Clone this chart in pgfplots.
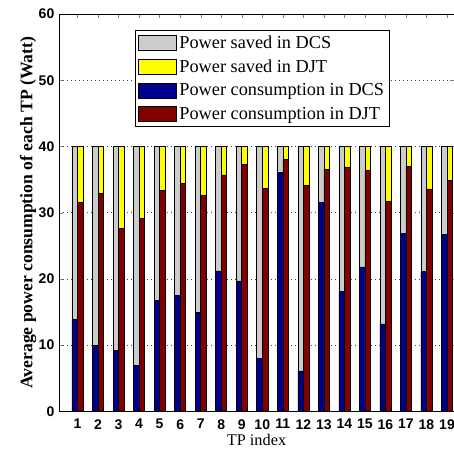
\documentclass[border=0pt]{standalone}
\usepackage{fontspec}
\setmainfont{Liberation Serif}
\setsansfont{Liberation Sans}
\usepackage{pgfplots}
\usepackage{pgfplotstable}
\pgfplotsset{compat=1.18}

\definecolor{savedcs}{RGB}{204,204,204}
\definecolor{savedjt}{RGB}{255,255,0}
\definecolor{consdcs}{RGB}{0,0,143}
\definecolor{consdjt}{RGB}{128,0,0}

% consumption per TP (Watt); total budget is 40 W per TP
\pgfplotstableread{
tp  dcs   djt   total
1   13.9  31.5  40
2   9.9   32.9  40
3   9.2   27.6  40
4   6.9   29.1  40
5   16.8  33.4  40
6   17.5  34.4  40
7   14.9  32.6  40
8   21.2  35.7  40
9   19.7  37.3  40
10  8.0   33.7  40
11  36.1  38.0  40
12  6.1   34.1  40
13  31.6  36.5  40
14  18.1  36.8  40
15  21.8  36.4  40
16  13.2  31.7  40
17  26.9  37.0  40
18  21.1  33.6  40
19  26.7  34.9  40
}\tpdata

\begin{document}
\begin{tikzpicture}
  \begin{axis}[
      name=ax,
      scale only axis,
      width=296pt, height=297.75pt,
      xmin=0.1, xmax=19.34,
      ymin=0, ymax=60,
      ybar, bar width=0.27,
      xtick={1,...,19},
      ytick={0,10,...,60},
      tick align=inside,
      major tick length=3pt,
      ymajorgrids,
      grid style={black!75, line width=0.5pt, dash pattern=on 0.75pt off 2.25pt},
      axis line style={line width=0.6pt},
      /pgf/number format/assume math mode=true,
      tick label style={font=\sffamily\bfseries\fontsize{10.5}{12}\selectfont},
      xticklabel style={yshift=-2.5pt},
      xlabel={TP index},
      ylabel={Average power consumption of each TP (Watt)},
      xlabel style={font=\fontsize{12.2}{14}\selectfont, yshift=3.5pt},
      ylabel style={font=\bfseries\fontsize{13.2}{15}\selectfont, yshift=-5pt},
      legend cell align=left,
      legend style={at={(rel axis cs:0.192,0.960)}, anchor=north west,
        draw=black, line width=0.6pt,
        font=\fontsize{13.7}{15}\selectfont,
        row sep=3pt, inner sep=2pt},
      legend image code/.code={%
        \draw[#1, draw=black, line width=0.6pt] (0pt,-5.6pt) rectangle (28.5pt,5.6pt);},
    ]
    \addplot[fill=savedcs, draw=black, line width=0.4pt, bar shift=-0.135]
      table[x=tp, y=total] {\tpdata};
    \addlegendentry{Power saved in DCS}
    \addplot[fill=savedjt, draw=black, line width=0.4pt, bar shift=0.135]
      table[x=tp, y=total] {\tpdata};
    \addlegendentry{Power saved in DJT}
    \addplot[fill=consdcs, draw=black, line width=0.4pt, bar shift=-0.135]
      table[x=tp, y=dcs] {\tpdata};
    \addlegendentry{Power consumption in DCS}
    \addplot[fill=consdjt, draw=black, line width=0.4pt, bar shift=0.135]
      table[x=tp, y=djt] {\tpdata};
    \addlegendentry{Power consumption in DJT}
  \end{axis}
  \pgfresetboundingbox
  \path[use as bounding box] ([xshift=-44.25pt, yshift=-29.25pt]ax.south west)
    rectangle ([yshift=10.5pt]ax.north east);
\end{tikzpicture}
\end{document}
